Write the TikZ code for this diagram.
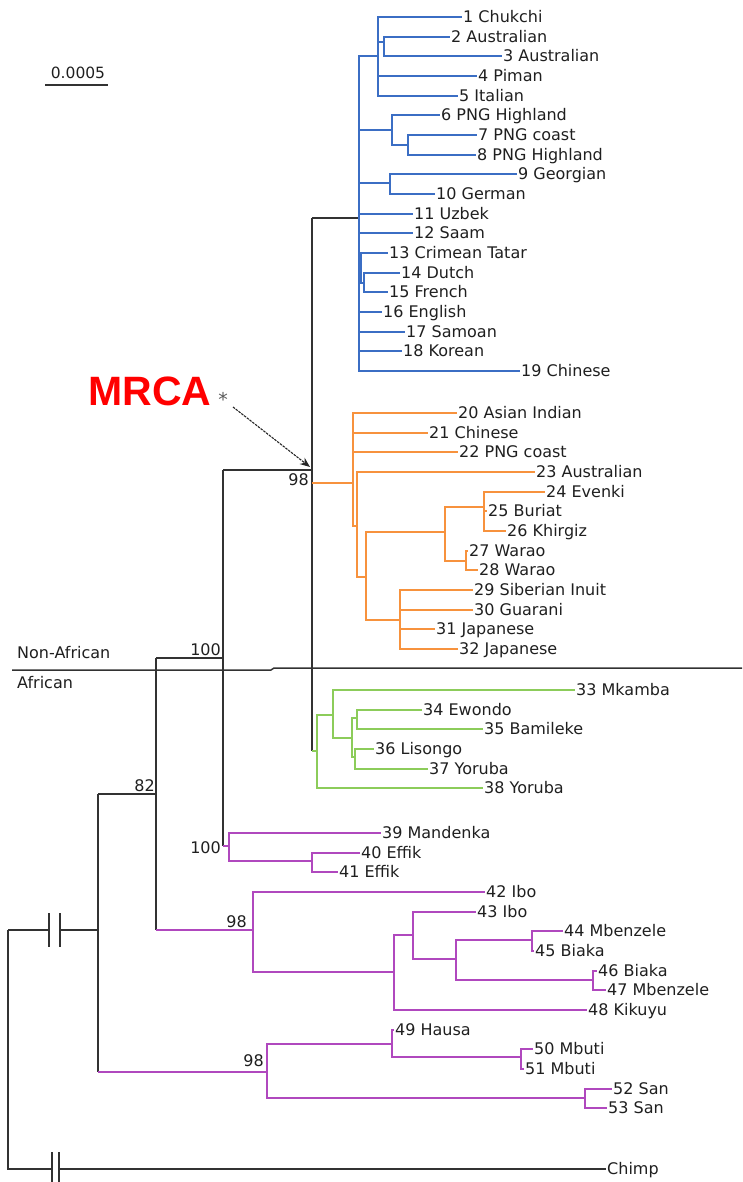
\documentclass[tikz,border=0pt]{standalone}
\usepackage{fontspec}
\newfontfamily\labfont{DejaVu Sans}
\newfontfamily\boldlabfont{Liberation Sans Bold}
\usetikzlibrary{arrows.meta}
\pgfdeclarelayer{edgelayer}
\pgfdeclarelayer{nodelayer}
\pgfsetlayers{edgelayer,nodelayer,main}
\definecolor{TreeBlk}{RGB}{50,50,50}
\definecolor{TreeBlue}{RGB}{59,110,196}
\definecolor{TreeOrange}{RGB}{247,146,61}
\definecolor{TreeGreen}{RGB}{140,204,90}
\definecolor{TreePurple}{RGB}{176,72,190}
\newcommand{\leaffont}{\labfont\fontsize{16}{19}\selectfont}
\tikzstyle{leaf}=[anchor=west, inner ysep=0pt, inner xsep=1pt, text height=11.5pt, text depth=0pt, font=\leaffont, text=black!88]
\tikzstyle{boot}=[inner sep=0pt, text height=11.5pt, text depth=0pt, font=\leaffont, text=black!88]
\tikzstyle{bk}=[draw=TreeBlk, line width=1.5pt]
\tikzstyle{bl}=[draw=TreeBlue, line width=1.5pt]
\tikzstyle{or}=[draw=TreeOrange, line width=1.5pt]
\tikzstyle{gr}=[draw=TreeGreen, line width=1.5pt]
\tikzstyle{pu}=[draw=TreePurple, line width=1.5pt]
\begin{document}
\begin{tikzpicture}[x=1pt, y=-1pt]
	\useasboundingbox (0, 0) rectangle (742, 1182);
	\begin{pgfonlayer}{nodelayer}
		% backbone
		\coordinate (R) at (8, 930);
		\coordinate (brk1a) at (49, 930);
		\coordinate (brk1b) at (60, 930);
		\coordinate (brk2a) at (52, 1169);
		\coordinate (brk2b) at (59, 1169);
		\coordinate (A82) at (98, 930);
		\coordinate (A100) at (156, 794);
		\coordinate (NA) at (223, 658);
		\coordinate (MRCA) at (312, 470);
		% blue
		\coordinate (B) at (359, 218);
		\coordinate (B1) at (378, 56);
		\coordinate (B2) at (384, 42);
		\coordinate (B3) at (392, 130);
		\coordinate (B4) at (408, 145);
		\coordinate (B5) at (390, 183);
		\coordinate (B6) at (361, 268);
		\coordinate (B7) at (364, 283);
		% orange
		\coordinate (O) at (353, 483);
		\coordinate (O1) at (357, 526);
		\coordinate (O2) at (366, 577);
		\coordinate (O3) at (445, 532);
		\coordinate (O4) at (484, 507);
		\coordinate (O5) at (466, 561);
		\coordinate (O6) at (400, 620);
		% green
		\coordinate (G) at (317, 751);
		\coordinate (G1) at (333, 715);
		\coordinate (G2) at (352, 738);
		\coordinate (G3) at (357, 718);
		\coordinate (G4) at (355, 757);
		% purple
		\coordinate (MD) at (229, 846);
		\coordinate (P1) at (312, 861);
		\coordinate (P98a) at (253, 930);
		\coordinate (P2) at (394, 972);
		\coordinate (P3) at (413, 935);
		\coordinate (P4) at (456, 959);
		\coordinate (P5) at (532, 940);
		\coordinate (P6) at (593, 980);
		\coordinate (P98b) at (267, 1072);
		\coordinate (P7) at (392, 1044);
		\coordinate (P8) at (521, 1057);
		\coordinate (P9) at (585, 1098);
		% leaves
		\node [leaf] (l1) at (462, 17) {1 Chukchi};
		\node [leaf] (l2) at (450, 37) {2 Australian};
		\node [leaf] (l3) at (502, 56) {3 Australian};
		\node [leaf] (l4) at (477, 76) {4 Piman};
		\node [leaf] (l5) at (458, 96) {5 Italian};
		\node [leaf] (l6) at (440, 115) {6 PNG Highland};
		\node [leaf] (l7) at (477, 135) {7 PNG coast};
		\node [leaf] (l8) at (476, 155) {8 PNG Highland};
		\node [leaf] (l9) at (517, 174) {9 Georgian};
		\node [leaf] (l10) at (435, 194) {10 German};
		\node [leaf] (l11) at (413, 214) {11 Uzbek};
		\node [leaf] (l12) at (413, 233) {12 Saam};
		\node [leaf] (l13) at (388, 253) {13 Crimean Tatar};
		\node [leaf] (l14) at (400, 273) {14 Dutch};
		\node [leaf] (l15) at (388, 292) {15 French};
		\node [leaf] (l16) at (382, 312) {16 English};
		\node [leaf] (l17) at (405, 332) {17 Samoan};
		\node [leaf] (l18) at (402, 351) {18 Korean};
		\node [leaf] (l19) at (520, 371) {19 Chinese};
		\node [leaf] (l20) at (457, 413) {20 Asian Indian};
		\node [leaf] (l21) at (428, 433) {21 Chinese};
		\node [leaf] (l22) at (458, 452) {22 PNG coast};
		\node [leaf] (l23) at (535, 472) {23 Australian};
		\node [leaf] (l24) at (545, 492) {24 Evenki};
		\node [leaf] (l25) at (487, 511) {25 Buriat};
		\node [leaf] (l26) at (506, 531) {26 Khirgiz};
		\node [leaf] (l27) at (468, 551) {27 Warao};
		\node [leaf] (l28) at (478, 570) {28 Warao};
		\node [leaf] (l29) at (473, 590) {29 Siberian Inuit};
		\node [leaf] (l30) at (473, 610) {30 Guarani};
		\node [leaf] (l31) at (435, 629) {31 Japanese};
		\node [leaf] (l32) at (458, 649) {32 Japanese};
		\node [leaf] (l33) at (575, 690) {33 Mkamba};
		\node [leaf] (l34) at (422, 710) {34 Ewondo};
		\node [leaf] (l35) at (483, 729) {35 Bamileke};
		\node [leaf] (l36) at (374, 749) {36 Lisongo};
		\node [leaf] (l37) at (428, 769) {37 Yoruba};
		\node [leaf] (l38) at (483, 788) {38 Yoruba};
		\node [leaf] (l39) at (381, 833) {39 Mandenka};
		\node [leaf] (l40) at (360, 853) {40 Effik};
		\node [leaf] (l41) at (338, 872) {41 Effik};
		\node [leaf] (l42) at (485, 892) {42 Ibo};
		\node [leaf] (l43) at (476, 912) {43 Ibo};
		\node [leaf] (l44) at (563, 931) {44 Mbenzele};
		\node [leaf] (l45) at (534, 951) {45 Biaka};
		\node [leaf] (l46) at (597, 971) {46 Biaka};
		\node [leaf] (l47) at (606, 990) {47 Mbenzele};
		\node [leaf] (l48) at (587, 1010) {48 Kikuyu};
		\node [leaf] (l49) at (394, 1030) {49 Hausa};
		\node [leaf] (l50) at (533, 1049) {50 Mbuti};
		\node [leaf] (l51) at (524, 1069) {51 Mbuti};
		\node [leaf] (l52) at (612, 1089) {52 San};
		\node [leaf] (l53) at (607, 1108) {53 San};
		\node [leaf] (chimp) at (606, 1169) {Chimp};
		% support values
		\node [boot, anchor=south east] (bs82) at (155, 792) {82};
		\node [boot, anchor=south east] (bs100a) at (221, 656) {100};
		\node [boot, anchor=north east] (bs98a) at (309, 474) {98};
		\node [boot, anchor=east] (bs100b) at (221, 848) {100};
		\node [boot, anchor=south east] (bs98b) at (247, 928) {98};
		\node [boot, anchor=south east] (bs98c) at (264, 1067) {98};
		% other labels
		\node [leaf, inner xsep=0pt] (nonafr) at (17, 653) {Non-African};
		\node [leaf, inner xsep=0pt] (afr) at (17, 683) {African};
		\coordinate (dv1) at (12, 670);
		\coordinate (dv2) at (271, 670);
		\coordinate (dv3) at (274, 668);
		\coordinate (dv4) at (742, 668);
		\node [boot, font={\labfont\fontsize{15.5}{17}\selectfont}, text height=11pt] (scl) at (78, 73) {0.0005};
		\coordinate (sclL) at (45, 85);
		\coordinate (sclR) at (108, 85);
		\node [inner sep=0pt, text=red, font={\boldlabfont\fontsize{41}{44}\selectfont}] (mrcalab) at (150, 391) {MRCA};
		\node [inner sep=0pt, text=black!65, font={\labfont\fontsize{19}{20}\selectfont}] (star) at (223, 399) {*};
		\coordinate (astart) at (233, 407);
		\coordinate (aend) at (310, 467);
	\end{pgfonlayer}
	\begin{pgfonlayer}{edgelayer}
		% backbone
		\draw [bk] (R) -- (brk1a);
		\draw [bk] (brk1b) -- (A82);
		\draw [bk] (R) |- (brk2a);
		\draw [bk] (brk2b) -- (chimp.west);
		\draw [bk] ([yshift=17pt]brk1a) -- ([yshift=-17pt]brk1a);
		\draw [bk] ([yshift=17pt]brk1b) -- ([yshift=-17pt]brk1b);
		\draw [bk] ([yshift=17pt]brk2a) -- ([yshift=-17pt]brk2a);
		\draw [bk] ([yshift=17pt]brk2b) -- ([yshift=-17pt]brk2b);
		\draw [bk] (A82 |- A100) -- (A82 |- P98b);
		\draw [bk] (A82 |- A100) -- (A100);
		\draw [pu] (A82 |- P98b) -- (P98b);
		\draw [bk] (A100 |- NA) -- (A100 |- P98a);
		\draw [bk] (A100 |- NA) -- (NA);
		\draw [pu] (A100 |- P98a) -- (P98a);
		\draw [bk] (NA |- MRCA) -- (NA |- MD);
		\draw [bk] (NA |- MRCA) -- (MRCA);
		\draw [pu] (NA |- MD) -- (MD);
		\draw [bk] (MRCA |- B) -- (MRCA |- G);
		\draw [bk] (MRCA |- B) -- (B);
		\draw [or] (MRCA |- O) -- (O);
		\draw [gr] (MRCA |- G) -- (G);
		\draw [bk] (dv1) -- (dv2) -- (dv3) -- (dv4);
		\draw [bk] (sclL) -- (sclR);
		\draw [draw=black!85, line width=1.1pt, dash pattern=on 2.5pt off 1pt, -{Stealth[length=10pt, width=8pt]}] (astart) -- (aend);
		% blue
		\draw [bl] (B) |- (B1);
		\draw [bl] (B) |- (B3);
		\draw [bl] (B) |- (B5);
		\draw [bl] (B) |- (l11.west);
		\draw [bl] (B) |- (l12.west);
		\draw [bl] (B) |- (B6);
		\draw [bl] (B) |- (l16.west);
		\draw [bl] (B) |- (l17.west);
		\draw [bl] (B) |- (l18.west);
		\draw [bl] (B) |- (l19.west);
		\draw [bl] (B1) |- (l1.west);
		\draw [bl] (B1) |- (B2);
		\draw [bl] (B1) |- (l4.west);
		\draw [bl] (B1) |- (l5.west);
		\draw [bl] (B2) |- (l2.west);
		\draw [bl] (B2) |- (l3.west);
		\draw [bl] (B3) |- (l6.west);
		\draw [bl] (B3) |- (B4);
		\draw [bl] (B4) |- (l7.west);
		\draw [bl] (B4) |- (l8.west);
		\draw [bl] (B5) |- (l9.west);
		\draw [bl] (B5) |- (l10.west);
		\draw [bl] (B6) |- (l13.west);
		\draw [bl] (B6) |- (B7);
		\draw [bl] (B7) |- (l14.west);
		\draw [bl] (B7) |- (l15.west);
		% orange
		\draw [or] (O) |- (l20.west);
		\draw [or] (O) |- (l21.west);
		\draw [or] (O) |- (l22.west);
		\draw [or] (O) |- (O1);
		\draw [or] (O1) |- (l23.west);
		\draw [or] (O1) |- (O2);
		\draw [or] (O2) |- (O3);
		\draw [or] (O2) |- (O6);
		\draw [or] (O3) |- (O4);
		\draw [or] (O3) |- (O5);
		\draw [or] (O4) |- (l24.west);
		\draw [or] (O4) |- (l25.west);
		\draw [or] (O4) |- (l26.west);
		\draw [or] (O5) |- (l27.west);
		\draw [or] (O5) |- (l28.west);
		\draw [or] (O6) |- (l29.west);
		\draw [or] (O6) |- (l30.west);
		\draw [or] (O6) |- (l31.west);
		\draw [or] (O6) |- (l32.west);
		% green
		\draw [gr] (G) |- (G1);
		\draw [gr] (G) |- (l38.west);
		\draw [gr] (G1) |- (l33.west);
		\draw [gr] (G1) |- (G2);
		\draw [gr] (G2) |- (G3);
		\draw [gr] (G2) |- (G4);
		\draw [gr] (G3) |- (l34.west);
		\draw [gr] (G3) |- (l35.west);
		\draw [gr] (G4) |- (l36.west);
		\draw [gr] (G4) |- (l37.west);
		% purple
		\draw [pu] (MD) |- (l39.west);
		\draw [pu] (MD) |- (P1);
		\draw [pu] (P1) |- (l40.west);
		\draw [pu] (P1) |- (l41.west);
		\draw [pu] (P98a) |- (l42.west);
		\draw [pu] (P98a) |- (P2);
		\draw [pu] (P2) |- (P3);
		\draw [pu] (P2) |- (l48.west);
		\draw [pu] (P3) |- (l43.west);
		\draw [pu] (P3) |- (P4);
		\draw [pu] (P4) |- (P5);
		\draw [pu] (P4) |- (P6);
		\draw [pu] (P5) |- (l44.west);
		\draw [pu] (P5) |- (l45.west);
		\draw [pu] (P6) |- (l46.west);
		\draw [pu] (P6) |- (l47.west);
		\draw [pu] (P98b) |- (P7);
		\draw [pu] (P98b) |- (P9);
		\draw [pu] (P7) |- (l49.west);
		\draw [pu] (P7) |- (P8);
		\draw [pu] (P8) |- (l50.west);
		\draw [pu] (P8) |- (l51.west);
		\draw [pu] (P9) |- (l52.west);
		\draw [pu] (P9) |- (l53.west);
	\end{pgfonlayer}
\end{tikzpicture}
\end{document}
